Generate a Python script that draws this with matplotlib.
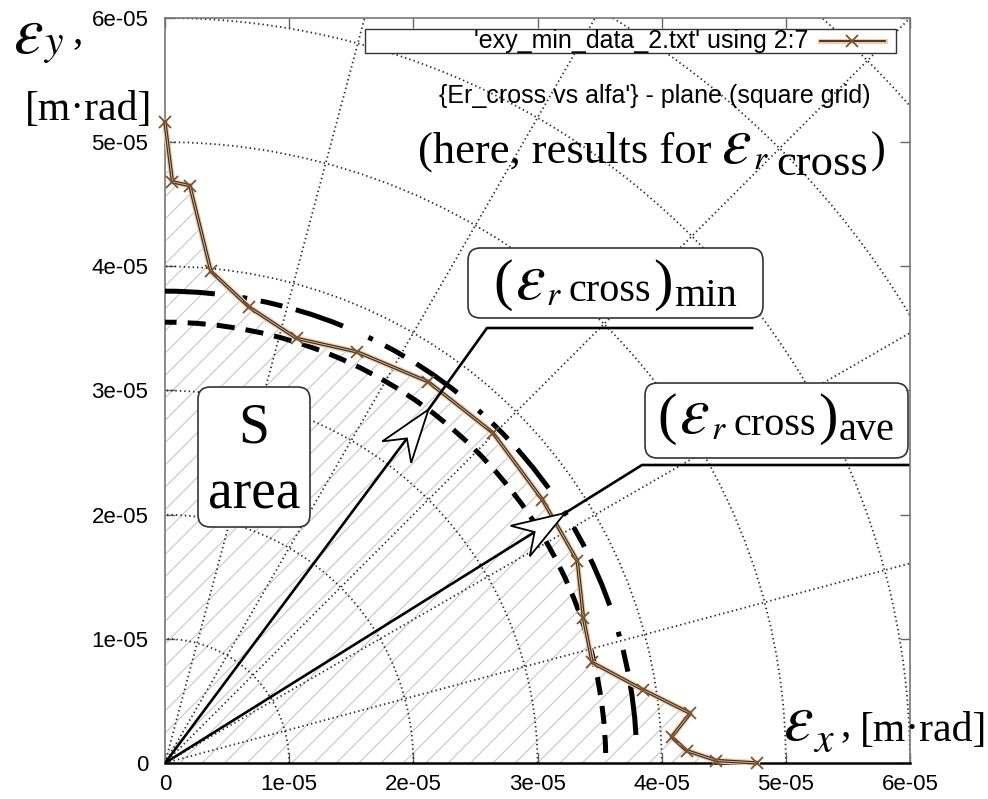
import numpy as np
import matplotlib.pyplot as plt
from matplotlib.patches import Polygon, Arc, FancyBboxPatch, Rectangle
from matplotlib.lines import Line2D
from matplotlib.collections import LineCollection

plt.rcParams['mathtext.fontset'] = 'stix'
plt.rcParams['lines.scale_dashes'] = False

W, H = 988, 799
SERIF = 'Liberation Serif'
SANS = 'Liberation Sans'

# boundary points, columns 2:7 of exy_min_data_2.txt [m*rad]
ex = [0.0, 0.06e-05, 0.20e-05, 0.37e-05, 0.68e-05, 1.06e-05, 1.55e-05,
      2.12e-05, 2.64e-05, 3.04e-05, 3.32e-05, 3.37e-05, 3.44e-05,
      3.85e-05, 4.23e-05, 4.08e-05, 4.20e-05, 4.44e-05, 4.77e-05]
ey = [5.16e-05, 4.68e-05, 4.65e-05, 3.96e-05, 3.67e-05, 3.42e-05, 3.31e-05,
      3.07e-05, 2.66e-05, 2.12e-05, 1.63e-05, 1.17e-05, 0.81e-05,
      0.59e-05, 0.40e-05, 0.21e-05, 0.10e-05, 0.02e-05, 0.0]

r_min = 3.55e-05      # (eps_r cross)_min
r_ave = 3.80e-05      # (eps_r cross)_ave
ang_min = 53.3        # arrow directions [deg]
ang_ave = 32.0

ticks = [0, 1e-05, 2e-05, 3e-05, 4e-05, 5e-05, 6e-05]
tick_labels = ['0', '1e-05', '2e-05', '3e-05', '4e-05', '5e-05', '6e-05']
grid_r = [1e-05, 2e-05, 3e-05, 4e-05, 5e-05, 6e-05, 7e-05, 8e-05]
grid_ang = [15, 30, 45, 60, 75]

fig = plt.figure(figsize=(W / 100, H / 100), dpi=100)
ax = fig.add_axes([165 / W, 1 - 763 / H, 745 / W, 745 / H])
ax.set_xlim(0, 6e-05)
ax.set_ylim(0, 6e-05)
ax.set_xticks(ticks)
ax.set_xticklabels(tick_labels)
ax.set_yticks(ticks)
ax.set_yticklabels(tick_labels)
ax.tick_params(direction='in', length=7, width=1.0, color='#666666',
               top=True, right=True, labelsize=16, pad=12)
ax.tick_params(axis='x', pad=8)
for lab in ax.get_xticklabels() + ax.get_yticklabels():
    lab.set_family(SANS)
for side in ['left', 'top', 'right']:
    ax.spines[side].set_color('#777777')
    ax.spines[side].set_linewidth(1.2)
ax.spines['bottom'].set_color('black')
ax.spines['bottom'].set_linewidth(1.8)

PX = 6e-05 / 745.0   # data units per pixel


def d(px, py):
    return ((px - 165) * PX, (763 - py) * PX)


# polar grid
dots = (0, (1, 2.2))
for r in grid_r:
    ax.add_patch(Arc((0, 0), 2 * r, 2 * r, theta1=0, theta2=90, ls=dots,
                     lw=1.3, color='#2a2a2a', zorder=2))
for a in grid_ang:
    t = np.radians(a)
    ax.plot([0, 9e-05 * np.cos(t)], [0, 9e-05 * np.sin(t)], ls=dots,
            lw=1.3, color='#2a2a2a', zorder=2)

# hatched S area under the boundary
region = Polygon(np.column_stack([[0.0] + ex, [0.0] + ey]), closed=True,
                 transform=ax.transData, fc='none', ec='none')
ax.add_patch(region)
offs = np.arange(-6e-05, 6e-05, 0.18e-05)
hatch = LineCollection([[(c, 0), (c + 6e-05, 6e-05)] for c in offs],
                       colors='#c8c8c8', linewidths=0.8, zorder=1)
ax.add_collection(hatch)
hatch.set_clip_path(region)

# reference circles
ax.add_patch(Arc((0, 0), 2 * r_min, 2 * r_min, theta1=1.3, theta2=90,
                 lw=3.6, color='black', ls=(0, (13, 8)), zorder=3))
ax.add_patch(Arc((0, 0), 2 * r_ave, 2 * r_ave, theta1=1.3, theta2=90,
                 lw=3.6, color='black', ls=(37, (16, 10, 3.5, 20, 36, 10)),
                 zorder=3))

# measured boundary
ax.plot(ex, ey, color='#f2cba6', lw=4.2, solid_joinstyle='round',
        zorder=4, clip_on=False)
ax.plot(ex, ey, color='#3c2d22', lw=2.4, solid_joinstyle='round',
        zorder=4, clip_on=False)
ax.plot(ex, ey, color='#d8b591', lw=0.7, marker='x', ms=9, mew=1.3,
        mec='#7a5535', zorder=5, clip_on=False)


def open_arrow(r, ang):
    t = np.radians(ang)
    u = np.array([np.cos(t), np.sin(t)])
    n = np.array([-u[1], u[0]])
    tip = r * u
    notch = tip - 36 * PX * u
    b1 = tip - 53 * PX * u + 18 * PX * n
    b2 = tip - 53 * PX * u - 18 * PX * n
    ax.plot([0, notch[0]], [0, notch[1]], color='black', lw=1.9,
            solid_capstyle='butt', zorder=6)
    ax.add_patch(Polygon([tip, b1, notch, b2], closed=True, fc='white',
                         ec='black', lw=1.3, zorder=7))
    return tip


tip_min = open_arrow(r_min, ang_min)
tip_ave = open_arrow(r_ave, ang_ave)

# leader lines
for p0, p1, tip in [((752, 328), (487, 328), tip_min),
                    ((908, 465), (642, 465), tip_ave)]:
    a0, a1 = d(*p0), d(*p1)
    ax.plot([a0[0], a1[0], tip[0]], [a0[1], a1[1], tip[1]], color='black',
            lw=1.9, zorder=8, clip_on=False)


def rbox(x0, y0, x1, y1):
    (u0, v1), (u1, v0) = d(x0, y0), d(x1, y1)
    ax.add_patch(FancyBboxPatch((u0, v0), u1 - u0, v1 - v0,
                                boxstyle='round,pad=0,rounding_size=1.0e-06',
                                fc='white', ec='#333333', lw=1.2, zorder=9,
                                clip_on=False))


rbox(468, 248, 763, 318)
rbox(645, 383, 908, 458)
rbox(198, 387, 310, 527)

ren = fig.canvas.get_renderer()


def run(x, y, parts, align='left', family=SERIF):
    # lay text pieces side by side on a pixel baseline
    cx = x
    texts = []
    for s, size, dy, gap in parts:
        cx += gap
        t = fig.text(cx / W, 1 - (y + dy) / H, s, fontsize=size,
                     family=family, va='baseline', ha='left')
        cx += t.get_window_extent(ren).width
        texts.append(t)
    shift = 0
    if align == 'right':
        shift = x - cx
    elif align == 'center':
        shift = (x - cx) / 2
    for t in texts:
        px0, py0 = t.get_position()
        t.set_position((px0 + shift / W, py0))


EPS = r'$\varepsilon$'

run(13, 53, [(EPS, 48, 0, 0), (r'$y$', 30, 1, 0)])
run(72, 42, [(',', 30, 0, 0)])
run(25, 120, [('[m·rad]', 30, 0, 0)])

run(783, 740, [(EPS, 48, 0, 0), (r'$x$', 30, 12, 0)])
run(840, 735, [(',', 30, 0, 0)])
run(860, 741, [('[m·rad]', 30, 0, 0)])

run(885, 163, [('(here, results for', 32, 0, 0), (EPS, 48, 0, 10),
               (r'$r$', 24, 6, 1), ('cross', 32, 12, 8), (')', 32, 0, 2)],
    align='right')

run(615, 299, [('(', 42, 0, 0), (EPS, 48, 0, 2), (r'$r$', 24, 6, 1),
               ('cross', 29, 2, 7), (')', 42, 0, 2), ('min', 29, 7, 1)],
    align='center')
run(776, 433, [('(', 42, 0, 0), (EPS, 48, 0, 2), (r'$r$', 24, 6, 1),
               ('cross', 29, 2, 7), (')', 42, 0, 2), ('ave', 29, 7, 1)],
    align='center')

fig.text(254 / W, 1 - 443 / H, 'S', fontsize=40, family=SERIF,
         ha='center', va='baseline')
fig.text(254 / W, 1 - 508 / H, 'area', fontsize=40, family=SERIF,
         ha='center', va='baseline')

# key
fig.add_artist(Rectangle((365 / W, 1 - 53 / H), (896 - 365) / W, 24 / H,
                         transform=fig.transFigure, fc='white', ec='#333333',
                         lw=1.0, zorder=1))
run(808, 48, [("'exy_min_data_2.txt' using 2:7", 18, 0, 0)], align='right',
    family=SANS)
fig.add_artist(Line2D([820 / W, 885 / W], [1 - 41 / H] * 2, color='#f2cba6',
                      lw=3.6, zorder=2))
fig.add_artist(Line2D([820 / W, 885 / W], [1 - 41 / H] * 2, color='#3c2d22',
                      lw=1.3, zorder=2))
fig.add_artist(Line2D([852 / W], [1 - 41 / H], marker='x', ms=9, mew=1.3,
                      mec='#7a5535', ls='none', zorder=2))

run(870, 103, [("{Er_cross vs alfa'} - plane (square grid)", 18, 0, 0)],
    align='right', family=SANS)

fig.savefig('out.png', dpi=100)
